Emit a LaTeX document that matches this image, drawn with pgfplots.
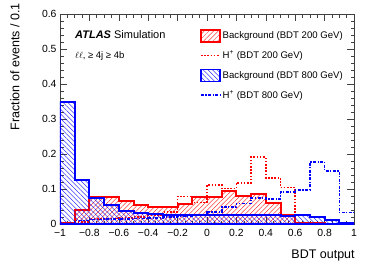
\documentclass[border=0pt]{standalone}
\usepackage{fontspec}
\setmainfont{Liberation Sans}
\usepackage{pgfplots}
\usepackage{pgfplotstable}
\pgfplotsset{compat=1.18}
\usetikzlibrary{patterns.meta}

\pgfplotstableread{
x    r     b     rs    bs
-1.0 0.003 0.350 0.002 0.002
-0.9 0.040 0.127 0.006 0.010
-0.8 0.078 0.073 0.015 0.013
-0.7 0.078 0.054 0.016 0.014
-0.6 0.067 0.038 0.018 0.015
-0.5 0.055 0.031 0.020 0.016
-0.4 0.049 0.030 0.026 0.018
-0.3 0.048 0.027 0.035 0.020
-0.2 0.058 0.026 0.079 0.022
-0.1 0.078 0.026 0.062 0.027
0.0  0.078 0.025 0.111 0.035
0.1  0.094 0.025 0.101 0.049
0.2  0.080 0.025 0.118 0.059
0.3  0.087 0.025 0.191 0.075
0.4  0.060 0.025 0.132 0.072
0.5  0.027 0.024 0.104 0.092
0.6  0.003 0.026 0.000 0.098
0.7  0.003 0.019 0.000 0.178
0.8  0.001 0.012 0.000 0.152
0.9  0.001 0.002 0.000 0.033
1.0  0.001 0.002 0.000 0.033
}\data

\definecolor{axisgray}{gray}{0.25}
\pgfplotsset{
  boxleg/.style={legend image code/.code={\draw[##1,line width=1.6pt] (0pt,-6pt) rectangle (19pt,6pt);}},
  lineleg/.style={legend image code/.code={\draw[##1] (0pt,0pt) -- (19pt,0pt);}},
}

\begin{document}
\begin{tikzpicture}
\useasboundingbox (-60pt,-44pt) rectangle (314pt,224pt);
\begin{axis}[
  at={(0pt,0pt)}, anchor=south west,
  scale only axis, width=294pt, height=210pt,
  xmin=-1, xmax=1, ymin=0, ymax=0.6,
  axis line style={axisgray, line width=0.6pt},
  every tick/.style={axisgray, line width=0.5pt},
  tick align=inside,
  xtick={-1,-0.8,-0.6,-0.4,-0.2,0,0.2,0.4,0.6,0.8,1},
  xticklabels={−1,−0.8,−0.6,−0.4,−0.2,0,0.2,0.4,0.6,0.8,1},
  ytick={0,0.1,0.2,0.3,0.4,0.5,0.6},
  yticklabels={0,0.1,0.2,0.3,0.4,0.5,0.6},
  minor x tick num=3, minor y tick num=4,
  major tick length=7pt, minor tick length=3.5pt,
  xticklabel pos=lower, yticklabel pos=left,
  xtick pos=both, ytick pos=both,
  ticklabel style={font=\fontsize{10.4}{12}\selectfont},
  xticklabel style={yshift=-1.5pt},
  xlabel={BDT output},
  ylabel={Fraction of events / 0.1},
  label style={font=\fontsize{12.5}{14}\selectfont},
  xlabel style={at={(axis description cs:1.003,-0.162)}, anchor=base east, inner sep=0pt},
  ylabel style={at={(axis description cs:-0.170,1.052)}, anchor=north east, inner sep=0pt},
  legend cell align=left,
  legend style={at={(axis description cs:0.476,0.930)}, anchor=north west,
    draw=none, fill=none, inner sep=0pt, row sep=6.5pt,
    font=\fontsize{9.6}{11}\selectfont},
]
\addplot[const plot mark left, draw=red, line width=2pt,
  pattern={Lines[angle=45,distance=3.3pt,line width=0.35pt]}, pattern color=red, boxleg]
  table[x=x,y=r]{\data} \closedcycle;
\addlegendentry{Background (BDT 200 GeV)}
\addplot[const plot mark left, draw=red, line width=1.6pt, dash pattern=on 1.6pt off 1.6pt, lineleg]
  table[x=x,y=rs]{\data};
\addlegendentry{H\textsuperscript{+} (BDT 200 GeV)}
\addplot[const plot mark left, draw=blue, line width=2pt,
  pattern={Lines[angle=-45,distance=3.3pt,line width=0.35pt]}, pattern color=blue, boxleg]
  table[x=x,y=b]{\data} \closedcycle;
\addlegendentry{Background (BDT 800 GeV)}
\addplot[const plot mark left, draw=blue, line width=1.6pt,
  dash pattern=on 3pt off 1.5pt on 1.2pt off 1.5pt, lineleg]
  table[x=x,y=bs]{\data};
\addlegendentry{H\textsuperscript{+} (BDT 800 GeV)}
\node[anchor=west, inner sep=0pt] at (axis description cs:0.051,0.90)
  {\fontsize{11}{13}\selectfont\textbf{\textit{ATLAS}} Simulation};
\node[anchor=base west, inner sep=0pt] at (axis description cs:0.051,0.788)
  {\fontsize{9.5}{11}\selectfont$\ell\ell$, ≥ 4j ≥ 4b};
\end{axis}
\end{tikzpicture}
\end{document}
